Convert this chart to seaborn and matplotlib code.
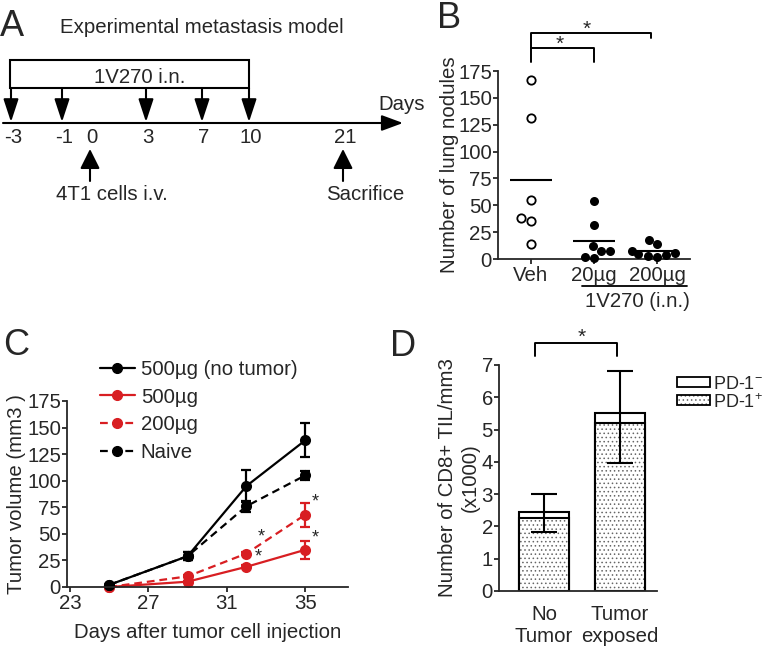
import numpy as np
import pandas as pd
import matplotlib
matplotlib.use("Agg")
import matplotlib.pyplot as plt
from matplotlib.lines import Line2D
from matplotlib.patches import Rectangle
import seaborn as sns

# panel A: schedule (schematic, not to scale)
tl_days = [-3, -1, 0, 3, 7, 10, 21]
tl_x = [11, 62, 90, 146, 202, 249, 343]
dose_days = [-3, -1, 3, 7, 10]
event_days = [0, 21]
event_labels = ["4T1 cells i.v.", "Sacrifice"]

# panel B: lung nodules
b_groups = ["Veh", "20µg", "200µg"]
b_veh = [167, 131, 55, 38, 35, 14]
b_20 = [54, 32, 12, 7, 7, 1, 2]
b_200 = [18, 14, 7, 6, 5, 4, 3, 2]

# panel C: tumor growth
c_days = [25, 29, 32, 35]
c_groups = ["500µg (no tumor)", "500µg", "200µg", "Naive"]
c_500_nt = [2, 29, 95, 138]
c_500_nt_sem = [0, 4, 15, 16]
c_500 = [0, 5, 19, 35]
c_500_sem = [0, 1, 1.5, 8.5]
c_200 = [0, 10, 31.5, 68]
c_200_sem = [0, 1, 1.5, 11.5]
c_naive = [2, 29, 76, 105]
c_naive_sem = [0, 4, 5, 4]
c_star_x = [32.75, 32.6, 35.5, 35.5]
c_star_y = [47, 28, 80, 46]

# panel D: CD8+ TIL
d_groups = ["No\nTumor", "Tumor\nexposed"]
d_total = [2.46, 5.50]
d_pd1_pos = [2.25, 5.21]
d_err_lo = [1.84, 3.98]
d_err_hi = [3.01, 6.82]

RED = "#d81e22"
W, H = 776, 649
FS = 14.7

sns.set_style("ticks")
plt.rcParams["font.family"] = ["Liberation Sans", "DejaVu Sans"]
plt.rcParams["font.size"] = FS
plt.rcParams["mathtext.fontset"] = "custom"
plt.rcParams["mathtext.rm"] = "Liberation Sans"
plt.rcParams["axes.linewidth"] = 1.3
plt.rcParams["xtick.major.width"] = 1.3
plt.rcParams["ytick.major.width"] = 1.3
plt.rcParams["xtick.major.size"] = 3.6
plt.rcParams["ytick.major.size"] = 3.6
plt.rcParams["xtick.major.pad"] = 1.5
plt.rcParams["ytick.major.pad"] = 0.8
plt.rcParams["xtick.labelsize"] = FS
plt.rcParams["ytick.labelsize"] = FS
plt.rcParams["axes.labelsize"] = FS
plt.rcParams["hatch.linewidth"] = 0.6


def box(l, t, r, b):
    return [l / W, 1 - b / H, (r - l) / W, (b - t) / H]


def fx(x):
    return x / W


def fy(y):
    return 1 - y / H


fig = plt.figure(figsize=(W / 100, H / 100), dpi=100)

# ---------------- A ----------------
ax_a = fig.add_axes([0, 1 - 215 / H, 420 / W, 215 / H])
ax_a.set_xlim(0, 420)
ax_a.set_ylim(215, 0)
ax_a.axis("off")
pos = dict(zip(tl_days, tl_x))
ax_a.annotate("", xy=(403, 123), xytext=(3, 123),
              arrowprops=dict(arrowstyle="-|>,head_length=0.65,head_width=0.24",
                              color="k", lw=1.5, shrinkA=0, shrinkB=0, mutation_scale=20))
ax_a.add_patch(Rectangle((10, 60), 239, 28, fill=False, lw=1.5, ec="k"))
ax_a.text(140, 83, "1V270 i.n.", ha="center", va="baseline")
for d in dose_days:
    ax_a.annotate("", xy=(pos[d], 122), xytext=(pos[d], 88),
                  arrowprops=dict(arrowstyle="-|>,head_length=0.7,head_width=0.23",
                                  color="k", lw=1.5, shrinkA=0, shrinkB=0, mutation_scale=20))
for d in tl_days:
    ax_a.text(pos[d] + 2, 143, str(d), ha="center", va="baseline")
for d, lab in zip(event_days, event_labels):
    ax_a.annotate("", xy=(pos[d], 149), xytext=(pos[d], 181),
                  arrowprops=dict(arrowstyle="-|>,head_length=0.6,head_width=0.3",
                                  color="k", lw=1.5, shrinkA=0, shrinkB=0, mutation_scale=20))
    ax_a.text(pos[d] + 22, 200, lab, ha="center", va="baseline")
ax_a.text(378, 110, "Days", ha="left", va="baseline")
ax_a.text(60, 33, "Experimental metastasis model", ha="left", va="baseline")
fig.text(fx(0), fy(36), "A", fontsize=26, va="baseline")

# ---------------- B ----------------
ax_b = fig.add_axes(box(498, 71, 690, 259))
dfb = pd.DataFrame({
    "group": ["Veh"] * len(b_veh) + ["20µg"] * len(b_20) + ["200µg"] * len(b_200),
    "nodules": b_veh + b_20 + b_200,
})
sns.swarmplot(data=dfb[dfb.group == "Veh"], x="group", y="nodules", order=b_groups,
              color="white", edgecolor="black", linewidth=1.3, size=6, ax=ax_b)
sns.swarmplot(data=dfb[dfb.group != "Veh"], x="group", y="nodules", order=b_groups,
              color="black", size=6.5, ax=ax_b)
for coll in ax_b.collections:
    coll.set_clip_on(False)
means = dfb.groupby("group")["nodules"].mean().reindex(b_groups)
xs = np.arange(len(b_groups))
ax_b.hlines(means, xs - 0.34, xs + 0.34, color="k", lw=1.5)
ax_b.set_xlim(-0.524, 2.524)
ax_b.set_ylim(0, 175)
ax_b.set_yticks(range(0, 176, 25))
ax_b.set_xlabel("")
ax_b.set_ylabel("Number of lung nodules", labelpad=-1)
sns.despine(ax=ax_b)
ax_b.plot([0, 0, 1.9, 1.9], [183, 210.5, 210.5, 205.5], color="k", lw=1.4, clip_on=False)
ax_b.plot([0, 1, 1], [196.5, 196.5, 183], color="k", lw=1.4, clip_on=False)
ax_b.text(0.89, 208.5, "*", ha="center", va="baseline", fontsize=15)
ax_b.text(0.46, 194.5, "*", ha="center", va="baseline", fontsize=15)
fig.add_artist(Line2D([fx(582), fx(687)], [fy(286), fy(286)], color="k", lw=1.3))
fig.text(fx(637), fy(307), "1V270 (i.n.)", ha="center", va="baseline")
fig.text(fx(437), fy(28), "B", fontsize=26, va="baseline")

# ---------------- C ----------------
ax_c = fig.add_axes(box(67, 401, 348, 587))
c_vals = {"500µg (no tumor)": (c_500_nt, c_500_nt_sem), "500µg": (c_500, c_500_sem),
          "200µg": (c_200, c_200_sem), "Naive": (c_naive, c_naive_sem)}
rows = []
for g in c_groups:
    v, s = c_vals[g]
    for d, vv, ss in zip(c_days, v, s):
        rows.append({"day": d, "volume": vv, "sem": ss, "group": g})
dfc = pd.DataFrame(rows)
palette = {"500µg (no tumor)": "black", "500µg": RED, "200µg": RED, "Naive": "black"}
dashes = {"500µg (no tumor)": "", "500µg": "", "200µg": (3.5, 2.2), "Naive": (3.5, 2.2)}
draw_order = ["500µg", "200µg", "Naive", "500µg (no tumor)"]
for g in draw_order:
    sub = dfc[dfc.group == g]
    ax_c.errorbar(sub.day, sub.volume, yerr=sub["sem"], fmt="none", ecolor=palette[g],
                  elinewidth=1.6, capsize=3.8, capthick=1.6, zorder=1.5)
sns.lineplot(data=dfc, x="day", y="volume", hue="group", style="group",
             hue_order=draw_order, style_order=draw_order, palette=palette, dashes=dashes,
             markers={g: "o" for g in c_groups}, markersize=8, markeredgewidth=0,
             linewidth=1.6, legend=False, ax=ax_c)
for x, y in zip(c_star_x, c_star_y):
    ax_c.text(x, y, "*", ha="center", va="center", fontsize=13)
ax_c.set_xlim(22.85, 37.18)
ax_c.set_xticks([23, 27, 31, 35])
ax_c.set_ylim(0, 175)
ax_c.set_yticks(range(0, 176, 25))
ax_c.set_xlabel("Days after tumor cell injection", labelpad=7)
ax_c.set_ylabel("Tumor volume (mm3 )", labelpad=1)
sns.despine(ax=ax_c)
for l in ax_c.lines:
    l.set_clip_on(False)
handles = []
for g in c_groups:
    h = Line2D([], [], color=palette[g], marker="o", markersize=7, lw=1.6)
    if dashes[g]:
        h.set_dashes(dashes[g])
    handles.append(h)
ax_c.legend(handles, c_groups, loc="upper left", bbox_to_anchor=(fx(100), fy(360)),
            bbox_transform=fig.transFigure, frameon=False, handlelength=1.7,
            handletextpad=0.3, labelspacing=0.42, borderpad=0, borderaxespad=0)
fig.text(fx(3), fy(355), "C", fontsize=26, va="baseline")

# ---------------- D ----------------
ax_d = fig.add_axes(box(499, 365, 657, 591))
dfd = pd.DataFrame({"group": d_groups, "total": d_total, "pos": d_pd1_pos,
                    "lo": d_err_lo, "hi": d_err_hi})
sns.barplot(data=dfd, x="group", y="total", color="white", edgecolor="black",
            linewidth=1.5, width=0.67, ax=ax_d)
sns.barplot(data=dfd, x="group", y="pos", color="white", edgecolor="0.4",
            hatch="....", linewidth=0, width=0.67, ax=ax_d)
sns.barplot(data=dfd, x="group", y="pos", color="black", fill=False,
            linewidth=1.5, width=0.67, ax=ax_d)
ax_d.errorbar(np.arange(len(d_groups)), dfd.total,
              yerr=[dfd.total - dfd.lo, dfd.hi - dfd.total], fmt="none", ecolor="k",
              elinewidth=1.5, capsize=9.4, capthick=1.5, zorder=5)
ax_d.set_xlim(-0.592, 1.487)
ax_d.set_ylim(0, 7)
ax_d.set_yticks(range(0, 8))
ax_d.tick_params(axis="x", length=0, pad=10)
ax_d.set_xlabel("")
ax_d.set_ylabel("Number of CD8+ TIL/mm3\n(x1000)", labelpad=1.5)
sns.despine(ax=ax_d)
ax_d.plot([-0.12, -0.12, 0.96, 0.96], [7.28, 7.68, 7.68, 7.28], color="k", lw=1.4, clip_on=False)
ax_d.text(0.5, 7.7, "*", ha="center", va="baseline", fontsize=15)
fig.add_artist(Rectangle((fx(677), fy(387)), 33 / W, 10 / H, transform=fig.transFigure,
                         fc="white", ec="black", lw=1.3))
fig.add_artist(Rectangle((fx(677), fy(405)), 33 / W, 10 / H, transform=fig.transFigure,
                         fc="white", ec="0.4", lw=0, hatch="...."))
fig.add_artist(Rectangle((fx(677), fy(405)), 33 / W, 10 / H, transform=fig.transFigure,
                         fill=False, ec="black", lw=1.3))
fig.text(fx(713), fy(389), r"PD-1$^{-}$", va="baseline", fontsize=13)
fig.text(fx(713), fy(408), r"PD-1$^{+}$", va="baseline", fontsize=13)
fig.text(fx(390), fy(356), "D", fontsize=26, va="baseline")

fig.savefig("out.png", dpi=100)
